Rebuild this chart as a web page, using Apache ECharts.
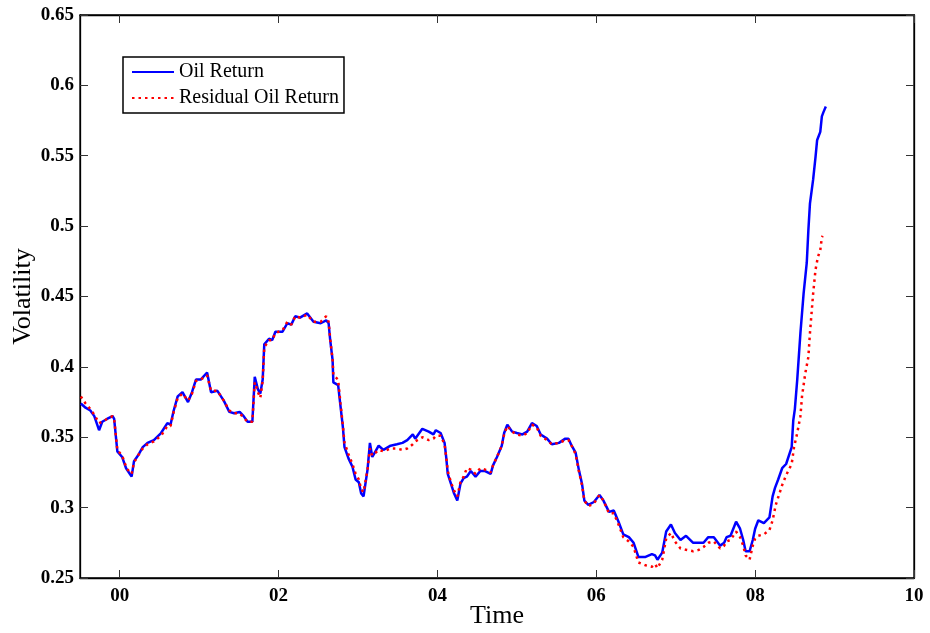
<!DOCTYPE html>
<html>
<head>
<meta charset="utf-8">
<script src="https://cdn.jsdelivr.net/npm/echarts@6/dist/echarts.min.js"></script>
<style>
  html, body { margin: 0; padding: 0; background: #fff; }
  #chart { width: 930px; height: 633px; }
</style>
</head>
<body>
<div id="chart"></div>
<script>
// time in years since 2000, volatility values
var oilTime = [-0.49, -0.43, -0.37, -0.32, -0.26, -0.22, -0.16, -0.09, -0.07, -0.03, 0.03, 0.08, 0.10, 0.15, 0.18, 0.23, 0.29, 0.35, 0.43, 0.52, 0.60, 0.64, 0.68, 0.73, 0.79, 0.86, 0.91, 0.96, 1.02, 1.10, 1.12, 1.15, 1.23, 1.31, 1.38, 1.44, 1.51, 1.56, 1.61, 1.67, 1.70, 1.74, 1.77, 1.80, 1.82, 1.88, 1.92, 1.96, 2.05, 2.11, 2.16, 2.21, 2.27, 2.36, 2.44, 2.53, 2.60, 2.63, 2.65, 2.68, 2.69, 2.75, 2.78, 2.81, 2.83, 2.88, 2.93, 2.97, 3.01, 3.04, 3.07, 3.12, 3.15, 3.18, 3.22, 3.26, 3.32, 3.41, 3.49, 3.56, 3.62, 3.69, 3.72, 3.81, 3.89, 3.95, 3.98, 4.04, 4.09, 4.11, 4.13, 4.17, 4.21, 4.25, 4.29, 4.33, 4.37, 4.42, 4.48, 4.54, 4.60, 4.67, 4.70, 4.75, 4.81, 4.84, 4.88, 4.94, 5.00, 5.07, 5.13, 5.19, 5.25, 5.30, 5.38, 5.44, 5.53, 5.61, 5.65, 5.69, 5.74, 5.78, 5.82, 5.85, 5.90, 5.97, 6.04, 6.09, 6.16, 6.22, 6.28, 6.34, 6.41, 6.47, 6.53, 6.62, 6.70, 6.74, 6.77, 6.83, 6.88, 6.94, 6.99, 7.06, 7.13, 7.22, 7.29, 7.35, 7.41, 7.48, 7.56, 7.61, 7.64, 7.69, 7.76, 7.81, 7.85, 7.88, 7.93, 7.97, 8.00, 8.04, 8.11, 8.18, 8.22, 8.25, 8.29, 8.34, 8.39, 8.46, 8.48, 8.50, 8.53, 8.57, 8.61, 8.65, 8.67, 8.69, 8.73, 8.76, 8.78, 8.82, 8.84, 8.86, 8.89];
var oilVol = [0.374, 0.371, 0.369, 0.365, 0.355, 0.361, 0.363, 0.365, 0.363, 0.340, 0.336, 0.328, 0.327, 0.322, 0.333, 0.337, 0.343, 0.346, 0.348, 0.353, 0.360, 0.359, 0.369, 0.379, 0.382, 0.375, 0.382, 0.391, 0.391, 0.396, 0.397, 0.382, 0.383, 0.376, 0.368, 0.367, 0.368, 0.365, 0.361, 0.361, 0.393, 0.384, 0.381, 0.391, 0.416, 0.420, 0.419, 0.425, 0.425, 0.431, 0.430, 0.436, 0.435, 0.438, 0.432, 0.431, 0.433, 0.431, 0.419, 0.405, 0.389, 0.387, 0.372, 0.357, 0.343, 0.335, 0.329, 0.320, 0.318, 0.310, 0.308, 0.327, 0.346, 0.336, 0.340, 0.344, 0.341, 0.344, 0.345, 0.346, 0.348, 0.352, 0.349, 0.356, 0.354, 0.352, 0.355, 0.353, 0.346, 0.336, 0.324, 0.317, 0.310, 0.305, 0.317, 0.321, 0.322, 0.326, 0.322, 0.326, 0.326, 0.324, 0.330, 0.336, 0.344, 0.353, 0.359, 0.354, 0.353, 0.352, 0.354, 0.360, 0.358, 0.352, 0.349, 0.345, 0.346, 0.349, 0.349, 0.344, 0.339, 0.327, 0.317, 0.305, 0.302, 0.304, 0.309, 0.305, 0.297, 0.298, 0.290, 0.281, 0.279, 0.275, 0.265, 0.265, 0.267, 0.266, 0.263, 0.268, 0.283, 0.288, 0.282, 0.277, 0.280, 0.275, 0.275, 0.275, 0.279, 0.279, 0.273, 0.275, 0.279, 0.280, 0.290, 0.285, 0.277, 0.269, 0.269, 0.277, 0.285, 0.291, 0.289, 0.293, 0.308, 0.314, 0.320, 0.328, 0.331, 0.343, 0.362, 0.370, 0.391, 0.424, 0.452, 0.474, 0.497, 0.516, 0.533, 0.549, 0.561, 0.567, 0.578, 0.581, 0.585];

var residTime = [-0.49, -0.43, -0.37, -0.32, -0.26, -0.22, -0.16, -0.09, -0.07, -0.03, 0.03, 0.08, 0.10, 0.15, 0.18, 0.23, 0.29, 0.35, 0.43, 0.52, 0.60, 0.64, 0.68, 0.73, 0.79, 0.86, 0.91, 0.96, 1.02, 1.10, 1.12, 1.15, 1.23, 1.31, 1.38, 1.44, 1.51, 1.56, 1.61, 1.67, 1.70, 1.74, 1.77, 1.80, 1.82, 1.88, 1.92, 1.96, 2.05, 2.11, 2.16, 2.21, 2.27, 2.36, 2.44, 2.53, 2.60, 2.63, 2.65, 2.68, 2.69, 2.75, 2.78, 2.81, 2.83, 2.88, 2.93, 2.97, 3.01, 3.04, 3.07, 3.12, 3.15, 3.18, 3.22, 3.26, 3.32, 3.41, 3.49, 3.56, 3.62, 3.69, 3.72, 3.81, 3.89, 3.95, 3.98, 4.04, 4.09, 4.11, 4.13, 4.17, 4.21, 4.25, 4.29, 4.33, 4.37, 4.42, 4.48, 4.54, 4.60, 4.67, 4.70, 4.75, 4.81, 4.84, 4.88, 4.94, 5.00, 5.07, 5.13, 5.19, 5.25, 5.30, 5.38, 5.44, 5.53, 5.61, 5.65, 5.69, 5.74, 5.78, 5.82, 5.85, 5.90, 5.97, 6.04, 6.09, 6.16, 6.22, 6.28, 6.34, 6.41, 6.47, 6.53, 6.62, 6.70, 6.74, 6.77, 6.83, 6.88, 6.94, 6.99, 7.06, 7.13, 7.22, 7.29, 7.35, 7.41, 7.48, 7.56, 7.61, 7.64, 7.69, 7.76, 7.81, 7.85, 7.88, 7.93, 7.97, 8.00, 8.04, 8.11, 8.18, 8.22, 8.26, 8.34, 8.39, 8.46, 8.49, 8.53, 8.57, 8.59, 8.63, 8.67, 8.69, 8.71, 8.73, 8.76, 8.79, 8.82, 8.84, 8.85];
var residVol = [0.379, 0.374, 0.370, 0.366, 0.360, 0.361, 0.363, 0.365, 0.363, 0.341, 0.337, 0.329, 0.327, 0.324, 0.332, 0.337, 0.342, 0.345, 0.347, 0.351, 0.358, 0.358, 0.368, 0.378, 0.381, 0.376, 0.381, 0.390, 0.391, 0.394, 0.395, 0.383, 0.383, 0.376, 0.369, 0.367, 0.367, 0.364, 0.361, 0.361, 0.389, 0.382, 0.378, 0.390, 0.414, 0.419, 0.419, 0.424, 0.426, 0.432, 0.430, 0.436, 0.435, 0.437, 0.432, 0.432, 0.436, 0.432, 0.420, 0.405, 0.394, 0.391, 0.374, 0.358, 0.346, 0.338, 0.331, 0.324, 0.320, 0.313, 0.311, 0.327, 0.342, 0.337, 0.339, 0.341, 0.340, 0.342, 0.342, 0.341, 0.342, 0.345, 0.347, 0.350, 0.348, 0.349, 0.351, 0.351, 0.345, 0.336, 0.326, 0.318, 0.312, 0.308, 0.318, 0.322, 0.328, 0.327, 0.324, 0.328, 0.327, 0.325, 0.330, 0.336, 0.344, 0.352, 0.358, 0.354, 0.352, 0.351, 0.353, 0.359, 0.357, 0.351, 0.348, 0.345, 0.346, 0.348, 0.348, 0.344, 0.338, 0.326, 0.316, 0.305, 0.301, 0.303, 0.309, 0.305, 0.296, 0.296, 0.288, 0.279, 0.276, 0.272, 0.261, 0.259, 0.258, 0.260, 0.257, 0.263, 0.278, 0.282, 0.276, 0.271, 0.270, 0.269, 0.270, 0.272, 0.275, 0.276, 0.271, 0.273, 0.276, 0.277, 0.283, 0.279, 0.273, 0.266, 0.263, 0.273, 0.278, 0.280, 0.281, 0.284, 0.291, 0.302, 0.316, 0.323, 0.331, 0.343, 0.353, 0.365, 0.379, 0.395, 0.407, 0.424, 0.438, 0.452, 0.469, 0.478, 0.483, 0.492, 0.493];

var xTicks = [0, 2, 4, 6, 8, 10];

function zip(t, v) {
  var out = [];
  for (var i = 0; i < t.length; i++) out.push([t[i], v[i]]);
  return out;
}

var chart = echarts.init(document.getElementById('chart'));
var serif = 'Liberation Serif, Times New Roman, serif';

var option = {
  backgroundColor: '#fff',
  animation: false,
  grid: {
    left: 80, right: 16, top: 15, bottom: 55,
    outerBoundsMode: 'none',
    show: true, borderColor: '#000', borderWidth: 1.3
  },
  legend: {
    orient: 'vertical',
    left: 123, top: 57,
    padding: [5, 5, 5, 8],
    itemGap: 6,
    itemWidth: 42,
    itemHeight: 14,
    borderColor: '#000',
    borderWidth: 1.5,
    borderRadius: 0,
    backgroundColor: '#fff',
    itemStyle: { opacity: 0 }, // hide the round symbol, keep the line
    textStyle: { fontFamily: serif, fontSize: 20, color: '#000', lineHeight: 20 },
    data: ['Oil Return', 'Residual Oil Return']
  },
  xAxis: [{
    type: 'value', min: -0.5, max: 10,
    name: 'Time', nameLocation: 'middle', nameGap: 25, nameMoveOverlap: false,
    nameTextStyle: { fontFamily: serif, fontSize: 26, color: '#000' },
    axisLine: { show: true, onZero: false, lineStyle: { color: '#000', width: 1.3 } },
    axisTick: { show: true, inside: true, length: 8, customValues: xTicks, lineStyle: { color: '#333' } },
    axisLabel: {
      customValues: xTicks, margin: 9,
      fontFamily: serif, fontSize: 19, fontWeight: 'bold', color: '#000',
      formatter: function (v) { return (v < 10 ? '0' : '') + v; }
    },
    splitLine: { show: false }
  }, {
    type: 'value', min: -0.5, max: 10, position: 'top',
    axisLine: { show: true, onZero: false, lineStyle: { color: '#000', width: 1.3 } },
    axisTick: { show: true, inside: true, length: 8, customValues: xTicks, lineStyle: { color: '#333' } },
    axisLabel: { show: false },
    splitLine: { show: false }
  }],
  yAxis: [{
    type: 'value', min: 0.25, max: 0.65, interval: 0.05,
    name: 'Volatility', nameLocation: 'middle', nameGap: 44, nameMoveOverlap: false,
    nameTextStyle: { fontFamily: serif, fontSize: 26, color: '#000' },
    axisLine: { show: true, onZero: false, lineStyle: { color: '#000', width: 1.3 } },
    axisTick: { show: true, inside: true, length: 8, lineStyle: { color: '#333' } },
    axisLabel: { margin: 6, fontFamily: serif, fontSize: 19, fontWeight: 'bold', color: '#000' },
    splitLine: { show: false }
  }, {
    type: 'value', min: 0.25, max: 0.65, interval: 0.05, position: 'right',
    axisLine: { show: true, onZero: false, lineStyle: { color: '#000', width: 1.3 } },
    axisTick: { show: true, inside: true, length: 8, lineStyle: { color: '#333' } },
    axisLabel: { show: false },
    splitLine: { show: false }
  }],
  series: [{
    name: 'Oil Return',
    type: 'line',
    symbol: 'none',
    data: zip(oilTime, oilVol),
    lineStyle: { color: '#0000ff', width: 2.5 },
    itemStyle: { color: '#0000ff' }
  }, {
    name: 'Residual Oil Return',
    type: 'line',
    symbol: 'none',
    data: zip(residTime, residVol),
    lineStyle: { color: '#ff0000', width: 2.5, type: [2.5, 4] },
    itemStyle: { color: '#ff0000' }
  }]
};
chart.setOption(option);
</script>
</body>
</html>
